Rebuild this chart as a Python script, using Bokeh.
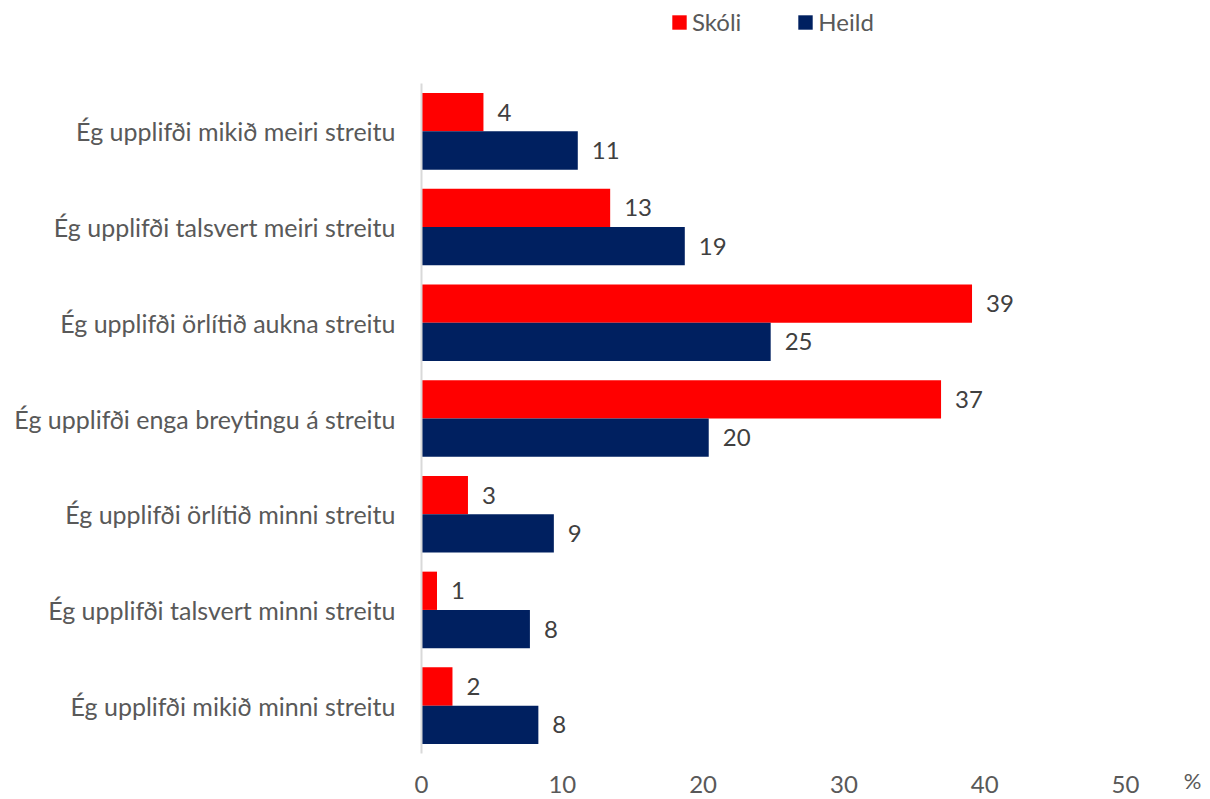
from bokeh.plotting import figure
from bokeh.models import ColumnDataSource, Legend, LegendItem, Range1d
from bokeh.embed import file_html
from bokeh.resources import INLINE
from bokeh.core.properties import value

categories = [
    "Ég upplifði mikið meiri streitu",
    "Ég upplifði talsvert meiri streitu",
    "Ég upplifði örlítið aukna streitu",
    "Ég upplifði enga breytingu á streitu",
    "Ég upplifði örlítið minni streitu",
    "Ég upplifði talsvert minni streitu",
    "Ég upplifði mikið minni streitu",
]
skoli = [4.4, 13.4, 39.1, 36.9, 3.3, 1.1, 2.2]
heild = [11.1, 18.7, 24.8, 20.4, 9.4, 7.7, 8.3]
x_ticks = [0, 10, 20, 30, 40, 50]
x_unit = "%"
series_names = ["Skóli", "Heild"]

FONT = "Lato"
W, H = 1210, 799
# plot area in pixels (left, right, top, bottom)
PL, PR, PT, PB = 421, 1125, 83, 753
XMAX = 50
n = len(categories)
pos = [n - i for i in range(n)]

xs = (PR - PL) / XMAX
ys = (PB - PT) / n
x_range = Range1d(-PL / xs, (W - PL) / xs)
y_range = Range1d(0.5 - (H - PB) / ys, n + 0.5 + PT / ys)

p = figure(width=W, height=H, output_backend="svg", toolbar_location=None,
           x_range=x_range, y_range=y_range,
           x_axis_location=None, y_axis_location=None,
           min_border=0, outline_line_color=None)
p.xgrid.visible = False
p.ygrid.visible = False

src_s = ColumnDataSource(dict(y=[q + 0.2 for q in pos], v=skoli,
                              lab=[str(int(round(v))) for v in skoli]))
src_h = ColumnDataSource(dict(y=[q - 0.2 for q in pos], v=heild,
                              lab=[str(int(round(v))) for v in heild]))

r_s = p.hbar(y="y", right="v", left=0, height=0.4, source=src_s,
             fill_color="#FF0000", line_color=None)
r_h = p.hbar(y="y", right="v", left=0, height=0.4, source=src_h,
             fill_color="#002060", line_color=None)

# vertical category axis line
p.segment(x0=[0], y0=[0.5], x1=[0], y1=[n + 0.5], line_color="#D9D9D9", line_width=2)

# value labels
for src in (src_s, src_h):
    p.text(x="v", y="y", text="lab", source=src, x_offset=14,
           text_align="left", text_baseline="middle",
           text_font=value(FONT), text_font_size="24px", text_color="#404040")

# category labels
p.text(x=[0] * n, y=pos, text=categories, x_offset=-26,
       text_align="right", text_baseline="middle",
       text_font=value(FONT), text_font_size="25px", text_color="#595959")

# x tick labels
p.text(x=x_ticks, y=[0.5] * len(x_ticks), text=[str(t) for t in x_ticks], y_offset=31,
       text_align="center", text_baseline="middle",
       text_font=value(FONT), text_font_size="24px", text_color="#595959")
p.text(x=[x_ticks[-1]], y=[0.5], text=[x_unit], x_offset=67, y_offset=27,
       text_align="center", text_baseline="middle",
       text_font=value(FONT), text_font_size="22px", text_color="#595959")

legend = Legend(items=[LegendItem(label=series_names[0], renderers=[r_s]),
                       LegendItem(label=series_names[1], renderers=[r_h])],
                orientation="horizontal", location=(670, H - 36),
                label_text_font=FONT, label_text_font_size="24px",
                label_text_color="#595959", glyph_width=18, glyph_height=18,
                label_standoff=4, spacing=55, border_line_color=None,
                background_fill_alpha=0, padding=0, margin=0)
p.add_layout(legend)

open("out.html", "w").write(file_html(p, INLINE))
